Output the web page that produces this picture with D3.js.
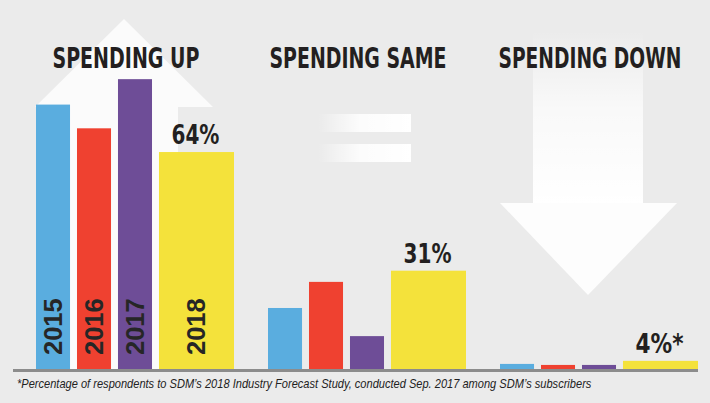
<!DOCTYPE html>
<html>
<head>
<meta charset="utf-8">
<script src="https://cdn.jsdelivr.net/npm/d3@7"></script>
<style>
  html, body { margin: 0; padding: 0; background: #ebebeb; }
  svg { display: block; }
</style>
</head>
<body>
<div id="chart"></div>
<script>
// data
var groups = ["SPENDING UP", "SPENDING SAME", "SPENDING DOWN"];
var years = ["2015", "2016", "2017", "2018"];
var colors = ["#5aaddf", "#ef4130", "#6e4d97", "#f4e23b"];
var values = [
  [78, 71, 85.5, 64],   // spending up
  [18, 25.7, 9.7, 29],  // spending same
  [1.5, 1.2, 1.2, 2.4]  // spending down
];
var pctLabels = ["64%", "31%", "4%*"];
var titleWidths = [147, 177, 183];
var footnote = "*Percentage of respondents to SDM\u2019s 2018 Industry Forecast Study, conducted Sep. 2017 among SDM\u2019s subscribers";

var width = 710;
var height = 403;
var baseline = 369;

var svg = d3
  .select("#chart")
  .append("svg")
  .attr("width", width)
  .attr("height", height);

var defs = svg.append("defs");

// fade for the equal sign
var gEq = defs.append("linearGradient").attr("id", "fadeLeft");
gEq.append("stop").attr("offset", "0%").attr("stop-color", "#fff").attr("stop-opacity", 0);
gEq.append("stop").attr("offset", "45%").attr("stop-color", "#fff").attr("stop-opacity", 0.85);
gEq.append("stop").attr("offset", "100%").attr("stop-color", "#fff").attr("stop-opacity", 1);

// fade for the down arrow shaft
var gDown = defs
  .append("linearGradient")
  .attr("id", "fadeTop")
  .attr("x1", 0).attr("y1", 0).attr("x2", 0).attr("y2", 1);
gDown.append("stop").attr("offset", "0%").attr("stop-color", "#fff").attr("stop-opacity", 0);
gDown.append("stop").attr("offset", "45%").attr("stop-color", "#fff").attr("stop-opacity", 0.7);
gDown.append("stop").attr("offset", "100%").attr("stop-color", "#fff").attr("stop-opacity", 1);

svg.append("rect")
  .attr("width", width)
  .attr("height", height)
  .attr("fill", "#ebebeb");

// squeeze a text horizontally to a given width (condensed look)
function squeeze(sel, x, y, target, anchor) {
  sel.each(function (d, i) {
    var w = this.getComputedTextLength();
    var tw = typeof target == "function" ? target(d, i) : target;
    var tx = typeof x == "function" ? x(d, i) : x;
    var ty = typeof y == "function" ? y(d, i) : y;
    var s = tw / w;
    var shift = anchor == "middle" ? -tw / 2 : 0;
    d3.select(this)
      .attr("text-anchor", "start")
      .attr("transform", "translate(" + (tx + shift) + "," + ty + ") scale(" + s + ",1)");
  });
}

// scales
var x0 = d3
  .scaleBand()
  .domain(groups)
  .range([36, 698])
  .paddingInner(0.1466);

// five slots, the 2018 bar takes the last two
var x1 = d3
  .scaleBand()
  .domain(["2015", "2016", "2017", "2018", "2018b"])
  .range([0, x0.bandwidth()])
  .paddingInner(0.17);

var y = d3.scaleLinear().domain([0, 100]).range([baseline, baseline - 339]);

function barX(yr) {
  return x1(yr);
}
function barW(yr) {
  if (yr == "2018") return x1("2018b") + x1.bandwidth() - x1("2018");
  return x1.bandwidth();
}

var line = d3.line();

// background symbols
var up = svg.append("g").attr("transform", "translate(" + x0(groups[0]) + ",0)");
up.append("path")
  .attr("d", line([[88, 19], [177, 107], [142, 107], [142, baseline], [34, baseline], [34, 107], [-1, 107]]) + "Z")
  .attr("fill", "#fbfbfb");

var same = svg.append("g").attr("transform", "translate(" + x0(groups[1]) + ",0)");
same.selectAll("rect")
  .data([114, 144])
  .join("rect")
  .attr("x", 50)
  .attr("y", (d) => d)
  .attr("width", 93)
  .attr("height", 18)
  .attr("fill", "url(#fadeLeft)");

var down = svg.append("g").attr("transform", "translate(" + x0(groups[2]) + ",0)");
down.append("rect")
  .attr("x", 33)
  .attr("y", 30)
  .attr("width", 110)
  .attr("height", 174)
  .attr("fill", "url(#fadeTop)");
down.append("path")
  .attr("d", line([[0, 203], [177, 203], [88, 295]]) + "Z")
  .attr("fill", "#fdfdfd");

// titles
svg.selectAll("text.title")
  .data(groups)
  .join("text")
  .attr("class", "title")
  .style("font-family", "'DejaVu Sans Condensed', 'DejaVu Sans', sans-serif")
  .style("font-weight", "bold")
  .style("font-size", "28px")
  .style("fill", "#231f20")
  .text((d) => d)
  .call(squeeze, (d) => x0(d) + x0.bandwidth() / 2 - 9, 68, (d, i) => titleWidths[i], "middle");

// bars
var gBars = svg
  .selectAll("g.group")
  .data(groups)
  .join("g")
  .attr("class", "group")
  .attr("transform", (d) => "translate(" + x0(d) + ",0)");

gBars.selectAll("rect")
  .data((d, i) => values[i].map((v, j) => ({ year: years[j], value: v, color: colors[j] })))
  .join("rect")
  .attr("x", (d) => barX(d.year))
  .attr("y", (d) => y(d.value))
  .attr("width", (d) => barW(d.year))
  .attr("height", (d) => baseline - y(d.value))
  .attr("fill", (d) => d.color);

// percent label on the 2018 bar
gBars.append("text")
  .style("font-family", "'DejaVu Sans Condensed', 'DejaVu Sans', sans-serif")
  .style("font-weight", "bold")
  .style("font-size", "26px")
  .style("fill", "#231f20")
  .text((d, i) => pctLabels[i])
  .call(squeeze, barX("2018") + barW("2018") / 2 - 1, (d, i) => y(values[i][3]) - 8, 48, "middle");

// year names inside the first group
gBars.filter((d, i) => i == 0)
  .selectAll("text.year")
  .data(years)
  .join("text")
  .attr("class", "year")
  .attr("transform", (d) => "translate(" + (barX(d) + barW(d) / 2 + 9) + "," + (baseline - 14) + ") rotate(-90)")
  .style("font-family", "'Liberation Sans', Arial, sans-serif")
  .style("font-weight", "bold")
  .style("font-size", "25.5px")
  .style("fill", "#262626")
  .text((d) => d);

// axis line
svg.append("rect")
  .attr("x", 13)
  .attr("y", baseline)
  .attr("width", 698 - 13)
  .attr("height", 3)
  .attr("fill", "#8c8c8c");

// footnote
svg.append("text")
  .style("font-family", "'Liberation Sans', Arial, sans-serif")
  .style("font-style", "italic")
  .style("font-size", "13px")
  .style("fill", "#222")
  .text(footnote)
  .call(squeeze, 17, 388, 575, "start");
</script>
</body>
</html>
